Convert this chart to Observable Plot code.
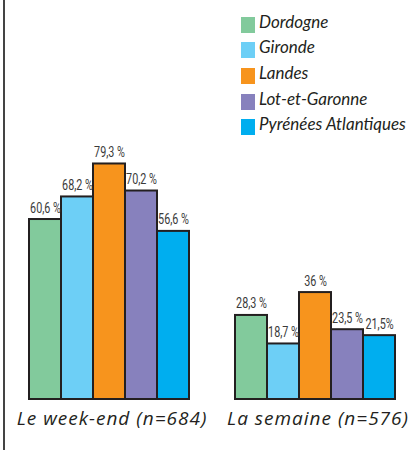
<!DOCTYPE html>
<html>
<head>
<meta charset="utf-8">
<script src="https://cdn.jsdelivr.net/npm/d3@7"></script>
<script src="https://cdn.jsdelivr.net/npm/@observablehq/plot@0.6"></script>
<style>
  html, body { margin: 0; padding: 0; background: #fff; }
  #wrap { position: relative; width: 408px; height: 450px; overflow: hidden; }
  #edge { position: absolute; left: 3px; top: 0; width: 1.5px; height: 450px; background: #444; }
  #legend { position: absolute; left: 241px; top: 12px; font-family: Lato, "Open Sans", sans-serif; font-style: italic; font-size: 17px; color: #231f20; }
  #legend .item { display: flex; align-items: center; height: 25.6px; margin: 0; }
  #legend .sw { width: 14px; height: 16px; margin-right: 4px; flex: none; }
  #legend .lab { line-height: 16px; position: relative; top: -3px; }
</style>
</head>
<body>
<div id="wrap">
  <div id="chart"></div>
  <div id="legend"></div>
  <div id="edge"></div>
</div>
<script>
const departements = ["Dordogne", "Gironde", "Landes", "Lot-et-Garonne", "Pyrénées Atlantiques"];
const periodes = ["Le week-end (n=684)", "La semaine (n=576)"];
const valeursWeekend = [60.6, 68.2, 79.3, 70.2, 56.6];
const valeursSemaine = [28.3, 18.7, 36, 23.5, 21.5];
const etiquettesWeekend = ["60,6 %", "68,2 %", "79,3 %", "70,2 %", "56,6 %"];
const etiquettesSemaine = ["28,3 %", "18,7 %", "36 %", "23,5 %", "21,5%"];
const couleurs = ["#82ca9c", "#6dcff6", "#f7941d", "#8781bd", "#00aeef"];

const data = [
  ...departements.map((d, i) => ({periode: periodes[0], dep: d, value: valeursWeekend[i], label: etiquettesWeekend[i]})),
  ...departements.map((d, i) => ({periode: periodes[1], dep: d, value: valeursSemaine[i], label: etiquettesSemaine[i]}))
];

const chart = Plot.plot({
  width: 408,
  height: 450,
  marginLeft: 27,
  marginRight: 12,
  marginTop: 102,
  marginBottom: 51,
  style: {background: "transparent"},
  fx: {domain: periodes, padding: 0.209, axis: null},
  x: {domain: departements, padding: 0, axis: null},
  y: {domain: [0, 100], axis: null},
  color: {domain: departements, range: couleurs},
  marks: [
    Plot.barY(data, {fx: "periode", x: "dep", y: "value", fill: "dep", stroke: "#231f20", strokeWidth: 2}),
    Plot.text(data, {fx: "periode", x: "dep", y: "value", text: "label", dy: -7, lineAnchor: "bottom",
      fontFamily: "Roboto", fontSize: 15, fill: "#3a3a3a"}),
    Plot.text(periodes, {fx: d => d, text: d => d, frameAnchor: "bottom", lineAnchor: "top", dy: 12, dx: 3,
      fontFamily: "Open Sans", fontStyle: "italic", fontSize: 19, fill: "#231f20"})
  ]
});
document.getElementById("chart").appendChild(chart);

// condense the bar value labels horizontally
chart.querySelectorAll('g[font-family="Roboto"] text').forEach(t => {
  let tr = t.getAttribute("transform") || "";
  const x = t.getAttribute("x"), y = t.getAttribute("y");
  if (x != null || y != null) {
    tr += ` translate(${x || 0},${y || 0})`;
    t.removeAttribute("x");
    t.removeAttribute("y");
  }
  t.setAttribute("transform", tr + " scale(0.72,1)");
});
chart.querySelectorAll('g[font-family="Open Sans"] text').forEach(t => {
  t.setAttribute("letter-spacing", "1");
});

const legend = document.getElementById("legend");
const color = chart.scale("color");
departements.forEach(d => {
  const item = document.createElement("div");
  item.className = "item";
  const sw = document.createElement("span");
  sw.className = "sw";
  sw.style.background = color.apply(d);
  const lab = document.createElement("span");
  lab.className = "lab";
  lab.textContent = d;
  item.appendChild(sw);
  item.appendChild(lab);
  legend.appendChild(item);
});
</script>
</body>
</html>
